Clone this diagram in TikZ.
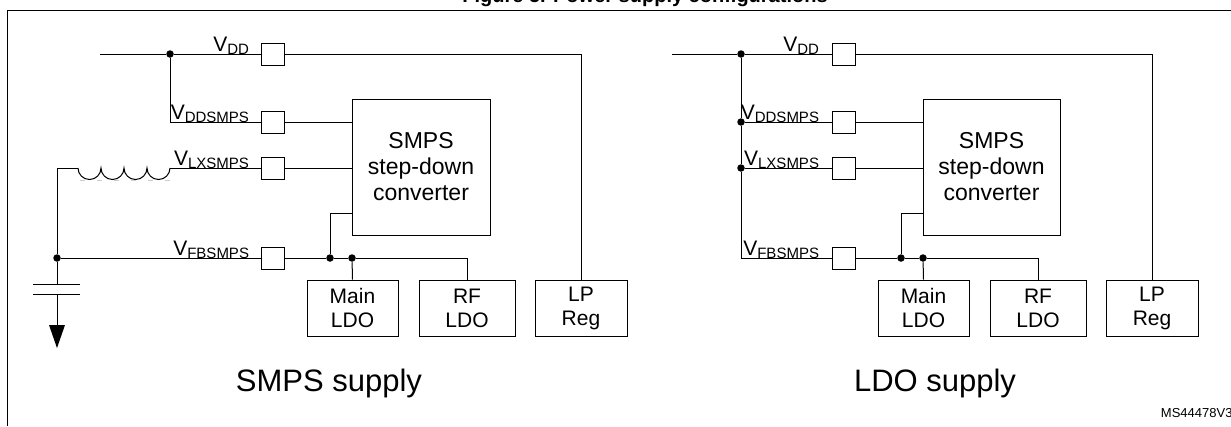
\documentclass[tikz,border=0pt]{standalone}
\usepackage{fontspec}
\setmainfont{Liberation Sans}
\begin{document}
\begin{tikzpicture}[x=1pt,y=-1pt,line width=1pt,
  pad/.style={draw,minimum width=23pt,minimum height=22pt,inner sep=0pt},
  blk/.style={draw,minimum width=#1,minimum height=56pt,inner sep=0pt,align=center,font=\fontsize{21}{24}\selectfont},
  dot/.style={circle,fill,inner sep=0pt,minimum size=7.5pt},
  lab/.style={anchor=south east,inner sep=0pt,font=\fontsize{21}{21}\selectfont},
  bigtxt/.style={font=\fontsize{31}{31}\selectfont}]
\useasboundingbox (0,0) rectangle (1231,426);
\begin{scope}
\clip (0,0) rectangle (1231,426);
\node[font=\bfseries\fontsize{20}{20}\selectfont,anchor=base] (title) at (645,2) {Figure 5. Power supply configurations};
\end{scope}
\draw (7,426) -- (7,10) -- (1231,10);
\newcommand{\lbl}[3]{\node[lab] at (#1,#2) {V\textsubscript{\fontsize{15}{15}\selectfont #3}};}
% ---------- left: SMPS supply
\coordinate (a0) at (100,54); \node[dot] (d1) at (170,54) {};
\node[pad] (p1) at (272.5,54) {}; \coordinate (a1) at (581,54);
\node[blk=92pt] (lp) at (581,308) {LP\\Reg};
\draw (a0) -- (d1) -- (p1) -- (a1) -- (lp.north);
\node[draw,minimum width=138pt,minimum height=136pt,align=center,font=\fontsize{23}{26}\selectfont] (sm) at (421,167) {SMPS\\step-down\\converter};
\node[pad] (p2) at (272.5,122) {};
\draw (d1) |- (p2); \draw (p2) -- (p2 -| sm.west);
\node[pad] (p3) at (272.5,168) {};
\coordinate (i1) at (78,168); \coordinate (i2) at (170,168);
\draw (p3) -- (p3 -| sm.west); \draw (p3) -- (i2);
\draw (i1) arc (180:0:11.5) arc (180:0:11.5) arc (180:0:11.5) arc (180:0:11.5);
\draw[gray!40,dash pattern=on 5pt off 12pt,line width=0.8pt] (80,180) -- (170,180);
\coordinate (w1) at (57,168);
\draw (i1) -- (w1);
\node[dot] (d2) at (57,258) {};
\node[pad] (p4) at (272.5,258) {};
\draw (w1) -- (d2) -- (p4);
\node[blk=91pt] (ml) at (352.5,308) {Main\\LDO};
\node[blk=96pt] (rl) at (467,308) {RF\\LDO};
\node[dot] (d3) at (330,258) {}; \node[dot] (d4) at (352,258) {};
\coordinate (rr) at (467,258);
\draw (p4) -- (d3) -- (d4) -- (rr) -- (rl.north);
\draw (d4) -- (ml.north);
\draw (d3) -- (330,213) -- (352,213);
\coordinate (c1) at (57,284); \coordinate (c2) at (57,294);
\draw (d2) -- (c1); \draw (33,284) -- (80,284); \draw (33,294) -- (80,294);
\coordinate (ar) at (57,348);
\draw (c2) -- (57,326); \fill (49,325) -- (65,325) -- (ar) -- cycle;
\lbl{250}{55}{DD}\lbl{250}{123}{DDSMPS}\lbl{250}{169}{LXSMPS}\lbl{250}{259}{FBSMPS}
\node[bigtxt] (t1) at (329,383) {SMPS supply};
% ---------- right: LDO supply
\coordinate (b0) at (672,54); \node[dot] (e1) at (741,54) {};
\node[pad] (q1) at (843.5,54) {}; \coordinate (b1) at (1152,54);
\node[blk=92pt] (lp2) at (1152,308) {LP\\Reg};
\draw (b0) -- (e1) -- (q1) -- (b1) -- (lp2.north);
\node[draw,minimum width=137pt,minimum height=136pt,align=center,font=\fontsize{23}{26}\selectfont] (sm2) at (991.5,167) {SMPS\\step-down\\converter};
\node[dot] (e2) at (741,122) {}; \node[dot] (e3) at (741,168) {};
\node[pad] (q2) at (843.5,122) {}; \node[pad] (q3) at (843.5,168) {}; \node[pad] (q4) at (843.5,258) {};
\draw (e2) -- (q2); \draw (q2) -- (q2 -| sm2.west);
\draw (e3) -- (q3); \draw (q3) -- (q3 -| sm2.west);
\draw (e1) -- (e2) -- (e3) |- (q4);
\node[blk=91pt] (ml2) at (923.5,308) {Main\\LDO};
\node[blk=96pt] (rl2) at (1038,308) {RF\\LDO};
\node[dot] (e4) at (901,258) {}; \node[dot] (e5) at (923,258) {};
\coordinate (r2) at (1038,258);
\draw (q4) -- (e4) -- (e5) -- (r2) -- (rl2.north);
\draw (e5) -- (ml2.north);
\draw (e4) -- (901,213) -- (923,213);
\lbl{820}{55}{DD}\lbl{820}{123}{DDSMPS}\lbl{820}{169}{LXSMPS}\lbl{820}{259}{FBSMPS}
\node[bigtxt] (t2) at (935,383) {LDO supply};
\node[anchor=east,font=\fontsize{13}{13}\selectfont,inner sep=0pt] (ms) at (1233,413) {MS44478V3};
\end{tikzpicture}
\end{document}
